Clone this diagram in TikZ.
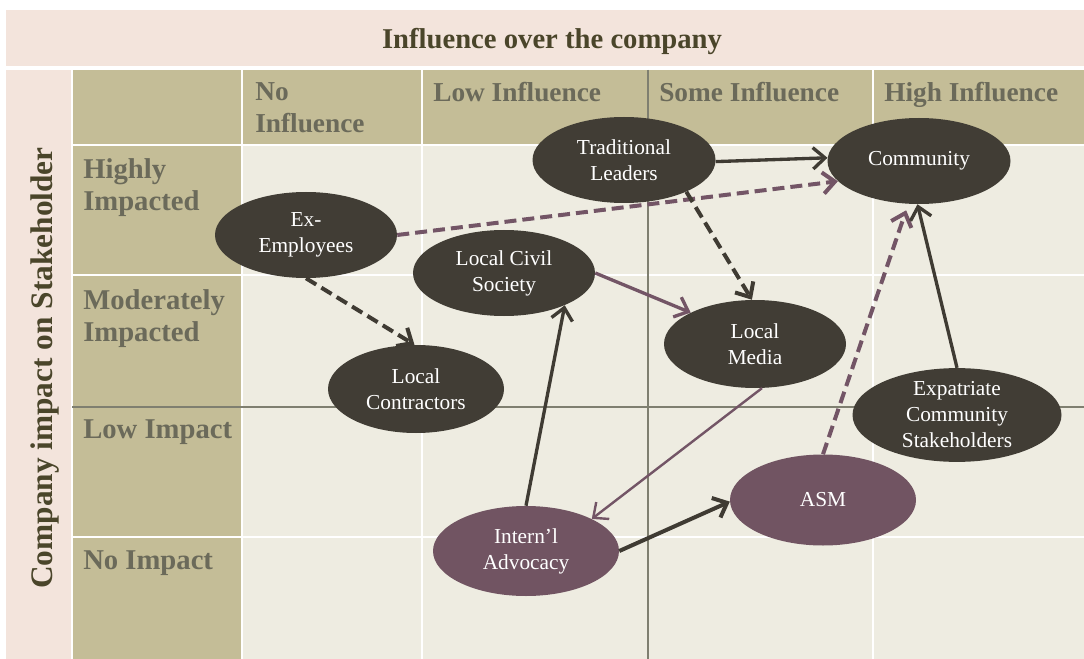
\documentclass[tikz,border=0pt]{standalone}
\usepackage{fontspec}
\setmainfont{Liberation Serif}
\usetikzlibrary{arrows.meta,shapes.geometric}
\definecolor{pinkbg}{HTML}{F3E4DC}
\definecolor{tanbg}{HTML}{C4BD97}
\definecolor{lightbg}{HTML}{EEECE1}
\definecolor{hdrtext}{HTML}{6B6A5A}
\definecolor{titletext}{HTML}{4A452A}
\definecolor{darknode}{HTML}{413D35}
\definecolor{mauvenode}{HTML}{715462}
\definecolor{axisline}{HTML}{7F7F70}
\definecolor{arrowdark}{HTML}{3F3B33}
\definecolor{arrowmauve}{HTML}{735566}
\tikzset{
  title/.style={font=\fontsize{21.5}{25}\selectfont\bfseries, text=titletext, inner sep=0pt},
  colhdr/.style={font=\fontsize{20.5}{24}\selectfont\bfseries, text=hdrtext, inner sep=0pt, align=left, anchor=north west},
  rowhdr/.style={font=\fontsize{21.5}{24}\selectfont\bfseries, text=hdrtext, inner sep=0pt, align=left, anchor=north west},
  stake/.style 2 args={ellipse, fill=darknode, text=white, inner sep=0pt, align=center,
     font=\fontsize{16}{19.5}\selectfont, minimum width=#1*0.75pt, minimum height=#2*0.75pt},
  stakem/.style 2 args={stake={#1}{#2}, fill=mauvenode},
  barb/.style={-{Straight Barb[length=9pt,width=16pt]}},
  darkarrow/.style={barb, draw=arrowdark, line width=2.5pt},
  mauvearrow/.style={barb, draw=arrowmauve, line width=2.5pt},
  dashedline/.style={dash pattern=on 9pt off 4.5pt},
  whiteline/.style={draw=white, line width=1.5pt},
  axis/.style={draw=axisline, line width=1.3pt}
}
\begin{document}
\begin{tikzpicture}[x=0.75pt,y=-0.75pt]
\useasboundingbox (0,0) rectangle (1084,659);
\fill[white] (0,0) rectangle (1084,659);
% bands
\fill[pinkbg] (6,10) rectangle (1084,66);
\node[title, anchor=base] (title) at (552,49) {Influence over the company};
\fill[pinkbg] (6,70) rectangle (71,659);
\node[font=\fontsize{23.5}{28}\selectfont\bfseries, text=titletext, inner sep=0pt, rotate=90, anchor=base] (vtitle) at (52,368) {Company impact on Stakeholder};
% table
\fill[tanbg] (72,70) rectangle (1084,145);
\fill[tanbg] (72,145) rectangle (242,659);
\fill[lightbg] (242,145) rectangle (1084,659);
\foreach \xx in {242,422,873} \draw[whiteline] (\xx,70) -- (\xx,659);
\foreach \yy in {145,275,537} \draw[whiteline] (72,\yy) -- (1084,\yy);
\draw[whiteline] (72,70) -- (72,659);
\draw[axis] (72,407) -- (1084,407);
\draw[axis] (648,70) -- (648,659);
% column headers
\node[colhdr] (c1) at (255,82) {No\\Influence};
\node[colhdr] (c2) at (433,82) {Low Influence};
\node[colhdr] (c3) at (659,82) {Some Influence};
\node[colhdr] (c4) at (884,82) {High Influence};
% row headers
\node[rowhdr] (r1) at (83,158) {Highly\\Impacted};
\node[rowhdr] (r2) at (83,289) {Moderately\\Impacted};
\node[rowhdr] (r3) at (83,419) {Low Impact};
\node[rowhdr] (r4) at (83,550) {No Impact};
% stakeholders
\node[stake={183}{86}] (trad) at (624,160) {Traditional\\Leaders};
\node[stake={183}{86}] (comm) at (919,161) {Community};
\node[stake={182}{86}] (exemp) at (306,235) {Ex-\\Employees};
\node[stake={182}{86}] (lcs) at (504,273) {Local Civil\\Society};
\node[stake={182}{88}] (media) at (755,344) {Local\\Media};
\node[stake={176}{88}] (contr) at (416,389) {Local\\Contractors};
\node[stake={209}{88}] (expat) at (957,415) {Expatriate\\Community\\Stakeholders};
\node[stakem={186}{91}] (asm) at (823,500) {ASM};
\node[stakem={186}{90}] (adv) at (526,551) {Intern’l\\Advocacy};
% connectors
\draw[darkarrow] (trad.-1) -- (comm.178);
\draw[mauvearrow, dashedline, line width=3pt] (exemp.east) -- (comm.194);
\draw[darkarrow, dashedline, line width=3pt] (trad.-27) -- (media.94);
\draw[mauvearrow] (lcs.east) -- (media.154);
\draw[darkarrow, dashedline, line width=3pt] (exemp.south) -- (contr.92);
\draw[darkarrow] (adv.north) -- (lcs.-28);
\draw[mauvearrow, line width=1.8pt] (media.-81) -- (adv.26);
\draw[darkarrow, line width=3pt] (adv.east) -- (asm.181);
\draw[mauvearrow, dashedline, line width=3pt, shorten >=5pt] (asm.north) -- (comm.256);
\draw[darkarrow] (expat.north) -- (comm.268);
\end{tikzpicture}
\end{document}
